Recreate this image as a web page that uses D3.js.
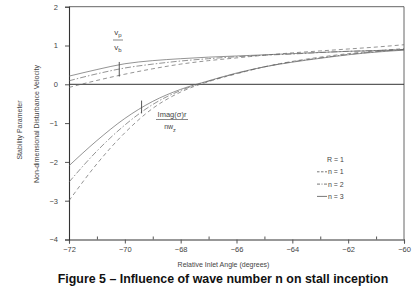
<!DOCTYPE html>
<html>
<head>
<meta charset="utf-8">
<script src="https://cdn.jsdelivr.net/npm/d3@7"></script>
<style>
  body { margin: 0; background: #fff; }
  svg { display: block; }
  text { font-family: "Liberation Sans", Arial, sans-serif; fill: #444; }
</style>
</head>
<body>
<svg></svg>
<script>
// relative inlet angle (degrees)
const angles = [-72, -71, -70, -69, -68, -67, -66, -65, -64, -63, -62, -61, -60];

// Vp / Vb for each wave number
const vpN1 = [-0.08, 0.10, 0.26, 0.40, 0.52, 0.61, 0.68, 0.75, 0.81, 0.86, 0.91, 0.96, 1.02];
const vpN2 = [0.09, 0.27, 0.42, 0.52, 0.60, 0.66, 0.71, 0.75, 0.78, 0.82, 0.85, 0.87, 0.90];
const vpN3 = [0.21, 0.38, 0.53, 0.61, 0.66, 0.70, 0.73, 0.76, 0.79, 0.82, 0.85, 0.87, 0.89];

// Imag(sigma) r / n Wz for each wave number
const stN1 = [-3.0, -2.05, -1.25, -0.62, -0.20, 0.07, 0.27, 0.45, 0.59, 0.70, 0.79, 0.86, 0.92];
const stN2 = [-2.52, -1.72, -1.05, -0.52, -0.16, 0.08, 0.28, 0.45, 0.58, 0.68, 0.77, 0.84, 0.90];
const stN3 = [-2.1, -1.45, -0.88, -0.44, -0.13, 0.09, 0.29, 0.45, 0.57, 0.67, 0.76, 0.83, 0.88];

const xTicks = [-72, -70, -68, -66, -64, -62, -60];
const xMinor = [-71, -69, -67, -65, -63, -61];
const yTicks = [-4, -3, -2, -1, 0, 1, 2];

const legendItems = [
  { label: "R = 1", dash: null },
  { label: "n = 1", dash: "2.5,1.5" },
  { label: "n = 2", dash: "3,1.5,1,1.5" },
  { label: "n = 3", dash: "none" }
];

const series = [
  { values: vpN1, dash: "4,3" },
  { values: vpN2, dash: "6,2,1.5,2" },
  { values: vpN3, dash: "none" },
  { values: stN1, dash: "4,3" },
  { values: stN2, dash: "6,2,1.5,2" },
  { values: stN3, dash: "none" }
];

const W = 418, H = 303;
const svg = d3.select("svg").attr("width", W).attr("height", H);

const x = d3.scaleLinear().domain([-72, -60]).range([69, 404]);
const y = d3.scaleLinear().domain([-4, 2]).range([239.5, 6.7]);

const ink = "#555";

// frame: top and right edges, zero line
svg.append("line").attr("x1", x(-72)).attr("x2", x(-60)).attr("y1", y(2)).attr("y2", y(2))
  .attr("stroke", ink).attr("stroke-width", 0.9);
svg.append("line").attr("x1", x(-60)).attr("x2", x(-60)).attr("y1", y(2)).attr("y2", y(-4))
  .attr("stroke", ink).attr("stroke-width", 0.9);
svg.append("line").attr("x1", x(-72)).attr("x2", x(-60)).attr("y1", y(0)).attr("y2", y(0))
  .attr("stroke", "#333").attr("stroke-width", 1);

// x axis
svg.append("g").attr("transform", `translate(0,${y(-4)})`)
  .call(d3.axisBottom(x).tickValues(xTicks).tickSize(4).tickPadding(3)
    .tickFormat(d => d3.format("d")(d).replace("-", "\u2212")));
svg.append("g").attr("transform", `translate(0,${y(-4)})`)
  .call(d3.axisTop(x).tickValues(xMinor).tickSize(3).tickFormat(""))
  .call(g => g.select(".domain").remove());

// y axis
svg.append("g").attr("transform", `translate(${x(-72)},0)`)
  .call(d3.axisLeft(y).tickValues(yTicks).tickSize(4).tickPadding(7)
    .tickFormat(d => d3.format("d")(d).replace("-", "\u2212")));

svg.selectAll(".domain").attr("stroke", "#333").attr("stroke-width", 1.1);
svg.selectAll(".tick line").attr("stroke", ink);
svg.selectAll(".tick text").attr("fill", "#444").style("font-size", "7.5px")
  .style("font-family", "Liberation Sans, Arial, sans-serif");

// curves
const line = d3.line()
  .x((d, i) => x(angles[i]))
  .y(d => y(d))
  .curve(d3.curveMonotoneX);

svg.append("g").selectAll("path")
  .data(series)
  .join("path")
  .attr("d", d => line(d.values))
  .attr("fill", "none")
  .attr("stroke", "#666")
  .attr("stroke-width", 0.7)
  .attr("stroke-dasharray", d => d.dash);

// marker ticks on each curve group
svg.append("line").attr("x1", x(-70.2)).attr("x2", x(-70.2)).attr("y1", y(0.55) - 1).attr("y2", y(0.2))
  .attr("stroke", "#444").attr("stroke-width", 0.9);
svg.append("line").attr("x1", x(-69.4)).attr("x2", x(-69.4)).attr("y1", y(-0.42)).attr("y2", y(-0.75))
  .attr("stroke", "#444").attr("stroke-width", 0.9);

// annotation: Vp / Vb
const ann1 = svg.append("g").attr("transform", "translate(118,0)");
ann1.append("text").attr("x", 0).attr("y", 35).attr("text-anchor", "middle").style("font-size", "8px")
  .html('v<tspan dy="2" font-size="6">p</tspan>');
ann1.append("line").attr("x1", -5).attr("x2", 5).attr("y1", 40).attr("y2", 40).attr("stroke", "#555").attr("stroke-width", 0.7);
ann1.append("text").attr("x", 0).attr("y", 50).attr("text-anchor", "middle").style("font-size", "8px")
  .html('v<tspan dy="2" font-size="6">b</tspan>');

// annotation: Imag(sigma) r / n Wz
const ann2 = svg.append("g").attr("transform", "translate(172,0)");
ann2.append("text").attr("x", 0).attr("y", 117).attr("text-anchor", "middle").style("font-size", "7.5px")
  .text("Imag(\u03c3)r");
ann2.append("line").attr("x1", -16).attr("x2", 16).attr("y1", 119.5).attr("y2", 119.5).attr("stroke", "#555").attr("stroke-width", 0.7);
ann2.append("text").attr("x", -2).attr("y", 129).attr("text-anchor", "middle").style("font-size", "7px")
  .html('nw<tspan dy="2.5" font-size="5.5">z</tspan>');

// legend
const legend = svg.append("g").attr("transform", "translate(317,162)");
legendItems.forEach((d, i) => {
  const gy = i * 12.3;
  if (d.dash) {
    legend.append("line").attr("x1", 0).attr("x2", 10).attr("y1", gy - 2.5).attr("y2", gy - 2.5)
      .attr("stroke", "#555").attr("stroke-width", 0.8).attr("stroke-dasharray", d.dash);
  }
  legend.append("text").attr("x", d.dash ? 11 : 10).attr("y", gy)
    .style("font-size", "7px").text(d.label);
});

// axis titles
svg.append("text")
  .attr("transform", `translate(${x(-66) - 13},267)`)
  .attr("text-anchor", "middle").style("font-size", "7px")
  .text("Relative Inlet Angle (degrees)");

svg.append("text")
  .attr("transform", "translate(22,130) rotate(-90)")
  .attr("text-anchor", "middle").style("font-size", "7px")
  .text("Stability Parameter");
svg.append("text")
  .attr("transform", "translate(39,124) rotate(-90)")
  .attr("text-anchor", "middle").style("font-size", "7px")
  .text("Non-dimensional Disturbance Velocity");

// caption
svg.append("text")
  .attr("x", 223).attr("y", 283)
  .attr("text-anchor", "middle")
  .style("font-size", "12.4px").style("font-weight", "bold").style("fill", "#111")
  .text("Figure 5 \u2013 Influence of wave number n on stall inception");
</script>
</body>
</html>
